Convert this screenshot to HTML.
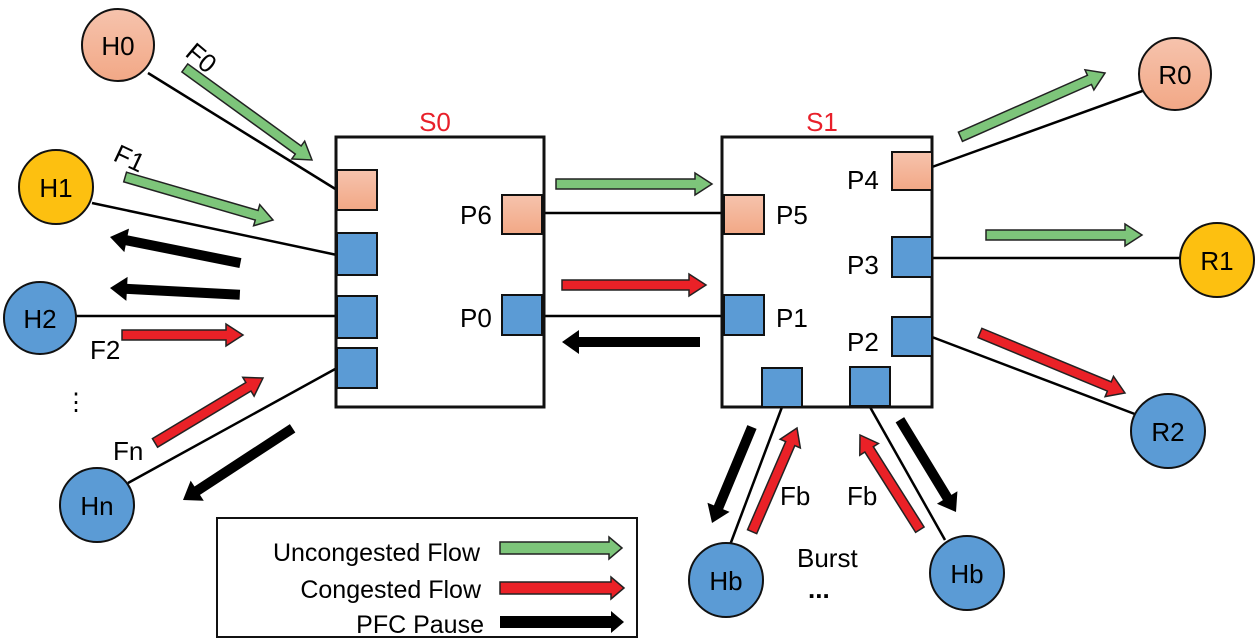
<!DOCTYPE html>
<html><head><meta charset="utf-8"><style>
html,body{margin:0;padding:0;background:#fff;}
svg{display:block;}
text{font-family:"Liberation Sans",Arial,sans-serif;font-size:26px;fill:#000;}
.g{fill:#7dc57a;stroke:#222;stroke-width:1.5;}
.r{fill:#ea2127;stroke:#222;stroke-width:1.5;}
.k{fill:#000;}
.ln{stroke:#000;stroke-width:2.5;fill:none;}
.b{fill:#5b9bd5;stroke:#111;stroke-width:2;}
.y{fill:#fdc010;stroke:#111;stroke-width:2;}
</style></head><body>
<svg width="1260" height="643" viewBox="0 0 1260 643" xmlns="http://www.w3.org/2000/svg">
<defs>
<linearGradient id="sal" x1="0" y1="0" x2="0" y2="1"><stop offset="0" stop-color="#f6c3ad"/><stop offset="1" stop-color="#f2a886"/></linearGradient>
</defs>
<line class="ln" x1="148" y1="73" x2="337" y2="190"/>
<line class="ln" x1="92" y1="203" x2="337" y2="255"/>
<line class="ln" x1="76" y1="316" x2="337" y2="316"/>
<line class="ln" x1="128" y1="483" x2="337" y2="368"/>
<line class="ln" x1="542" y1="213" x2="724" y2="213"/>
<line class="ln" x1="542" y1="316" x2="724" y2="316"/>
<line class="ln" x1="932" y1="167" x2="1145" y2="90"/>
<line class="ln" x1="932" y1="258" x2="1180" y2="258"/>
<line class="ln" x1="932" y1="337" x2="1140" y2="416"/>
<line class="ln" x1="782" y1="407" x2="730" y2="545"/>
<line class="ln" x1="870" y1="407" x2="945" y2="540"/>
<rect x="336" y="137" width="208" height="270" fill="#fff" stroke="#111" stroke-width="3"/>
<rect x="722" y="137" width="210" height="270" fill="#fff" stroke="#111" stroke-width="3"/>
<rect x="337" y="170" width="40" height="40" fill="url(#sal)" stroke="#111" stroke-width="2"/>
<rect class="b" x="337" y="233" width="40" height="42"/>
<rect class="b" x="337" y="296" width="40" height="42"/>
<rect class="b" x="337" y="348" width="40" height="40"/>
<rect x="502" y="195" width="40" height="39" fill="url(#sal)" stroke="#111" stroke-width="2"/>
<rect class="b" x="502" y="295" width="40" height="40"/>
<rect x="724" y="195" width="40" height="39" fill="url(#sal)" stroke="#111" stroke-width="2"/>
<rect class="b" x="724" y="295" width="40" height="40"/>
<rect x="892" y="152" width="40" height="38" fill="url(#sal)" stroke="#111" stroke-width="2"/>
<rect class="b" x="892" y="237" width="40" height="40"/>
<rect class="b" x="892" y="317" width="40" height="39"/>
<rect class="b" x="762" y="368" width="40" height="39"/>
<rect class="b" x="850" y="367" width="40" height="39"/>
<text x="435" y="131" text-anchor="middle" style="fill:#e8202a">S0</text>
<text x="822" y="131" text-anchor="middle" style="fill:#e8202a">S1</text>
<text x="460" y="224">P6</text>
<text x="460" y="327">P0</text>
<text x="776" y="224">P5</text>
<text x="776" y="327">P1</text>
<text x="847" y="189">P4</text>
<text x="847" y="274">P3</text>
<text x="847" y="351">P2</text>
<circle cx="118" cy="45" r="36" fill="url(#sal)" stroke="#111" stroke-width="2"/><text x="118" y="55" text-anchor="middle">H0</text>
<circle class="y" cx="56" cy="187" r="37"/><text x="56" y="197" text-anchor="middle">H1</text>
<circle class="b" cx="40" cy="318" r="36"/><text x="40" y="328" text-anchor="middle">H2</text>
<circle class="b" cx="97" cy="505" r="37"/><text x="97" y="515" text-anchor="middle">Hn</text>
<circle cx="1175" cy="74" r="36" fill="url(#sal)" stroke="#111" stroke-width="2"/><text x="1175" y="84" text-anchor="middle">R0</text>
<circle class="y" cx="1217" cy="260" r="37"/><text x="1217" y="270" text-anchor="middle">R1</text>
<circle class="b" cx="1168" cy="431" r="37"/><text x="1168" y="441" text-anchor="middle">R2</text>
<circle class="b" cx="726" cy="580" r="37"/><text x="726" y="590" text-anchor="middle">Hb</text>
<circle class="b" cx="967" cy="573" r="37"/><text x="967" y="583" text-anchor="middle">Hb</text>
<text transform="translate(184,55) rotate(40)">F0</text>
<text transform="translate(112,160) rotate(25)">F1</text>
<text x="90" y="359">F2</text>
<text x="64" y="410" style="font-size:24px">⋮</text>
<text x="113" y="460">Fn</text>
<text x="780" y="505">Fb</text>
<text x="847" y="505">Fb</text>
<text x="797" y="567">Burst</text>
<text x="808" y="598" style="font-weight:bold">...</text>
<g transform="translate(312,160) rotate(35.9)"><polygon class="g" points="0,0 -17,-11 -17,-5 -157,-5 -157,5 -17,5 -17,11"/></g>
<g transform="translate(273,220) rotate(16.2)"><polygon class="g" points="0,0 -17,-11 -17,-5 -154,-5 -154,5 -17,5 -17,11"/></g>
<g transform="translate(110,237) rotate(191.3)"><polygon class="k" points="0,0 -17,-12 -17,-5 -133,-5 -133,5 -17,5 -17,12"/></g>
<g transform="translate(110,288) rotate(183)"><polygon class="k" points="0,0 -17,-12 -17,-5 -130,-5 -130,5 -17,5 -17,12"/></g>
<g transform="translate(243,335) rotate(0)"><polygon class="r" points="0,0 -17,-11 -17,-5 -121,-5 -121,5 -17,5 -17,11"/></g>
<g transform="translate(263,378) rotate(-31)"><polygon class="r" points="0,0 -17,-11 -17,-5 -126,-5 -126,5 -17,5 -17,11"/></g>
<g transform="translate(183,500) rotate(146.8)"><polygon class="k" points="0,0 -17,-12 -17,-5 -131,-5 -131,5 -17,5 -17,12"/></g>
<g transform="translate(712,184) rotate(0)"><polygon class="g" points="0,0 -17,-11 -17,-5 -156,-5 -156,5 -17,5 -17,11"/></g>
<g transform="translate(706,285) rotate(0)"><polygon class="r" points="0,0 -17,-11 -17,-5 -144,-5 -144,5 -17,5 -17,11"/></g>
<g transform="translate(562,342) rotate(180)"><polygon class="k" points="0,0 -17,-12 -17,-5 -138,-5 -138,5 -17,5 -17,12"/></g>
<g transform="translate(1105,73) rotate(-23.8)"><polygon class="g" points="0,0 -17,-11 -17,-5 -158,-5 -158,5 -17,5 -17,11"/></g>
<g transform="translate(1142,235) rotate(0)"><polygon class="g" points="0,0 -17,-11 -17,-5 -156,-5 -156,5 -17,5 -17,11"/></g>
<g transform="translate(1125,393) rotate(22.5)"><polygon class="r" points="0,0 -17,-11 -17,-5 -157,-5 -157,5 -17,5 -17,11"/></g>
<g transform="translate(712,523) rotate(112.6)"><polygon class="k" points="0,0 -17,-12 -17,-5 -104,-5 -104,5 -17,5 -17,12"/></g>
<g transform="translate(797,428) rotate(-66.6)"><polygon class="r" points="0,0 -17,-11 -17,-5 -113,-5 -113,5 -17,5 -17,11"/></g>
<g transform="translate(860,435) rotate(-122.3)"><polygon class="r" points="0,0 -17,-11 -17,-5 -112,-5 -112,5 -17,5 -17,11"/></g>
<g transform="translate(956,512) rotate(58.7)"><polygon class="k" points="0,0 -17,-12 -17,-5 -108,-5 -108,5 -17,5 -17,12"/></g>
<rect x="217" y="518" width="420" height="119" fill="#fff" stroke="#111" stroke-width="2"/>
<text x="480" y="561" text-anchor="end" style="font-size:25px">Uncongested Flow</text>
<text x="481" y="598" text-anchor="end" style="font-size:25px">Congested Flow</text>
<text x="484" y="633" text-anchor="end" style="font-size:25px">PFC Pause</text>
<g transform="translate(622,548)"><polygon class="g" points="0,0 -13,-11 -13,-6 -122,-6 -122,6 -13,6 -13,11"/></g>
<g transform="translate(624,588)"><polygon class="r" points="0,0 -13,-11 -13,-6 -124,-6 -124,6 -13,6 -13,11"/></g>
<g transform="translate(624,622)"><polygon class="k" points="0,0 -13,-11 -13,-6 -124,-6 -124,6 -13,6 -13,11"/></g>
</svg>
</body></html>
